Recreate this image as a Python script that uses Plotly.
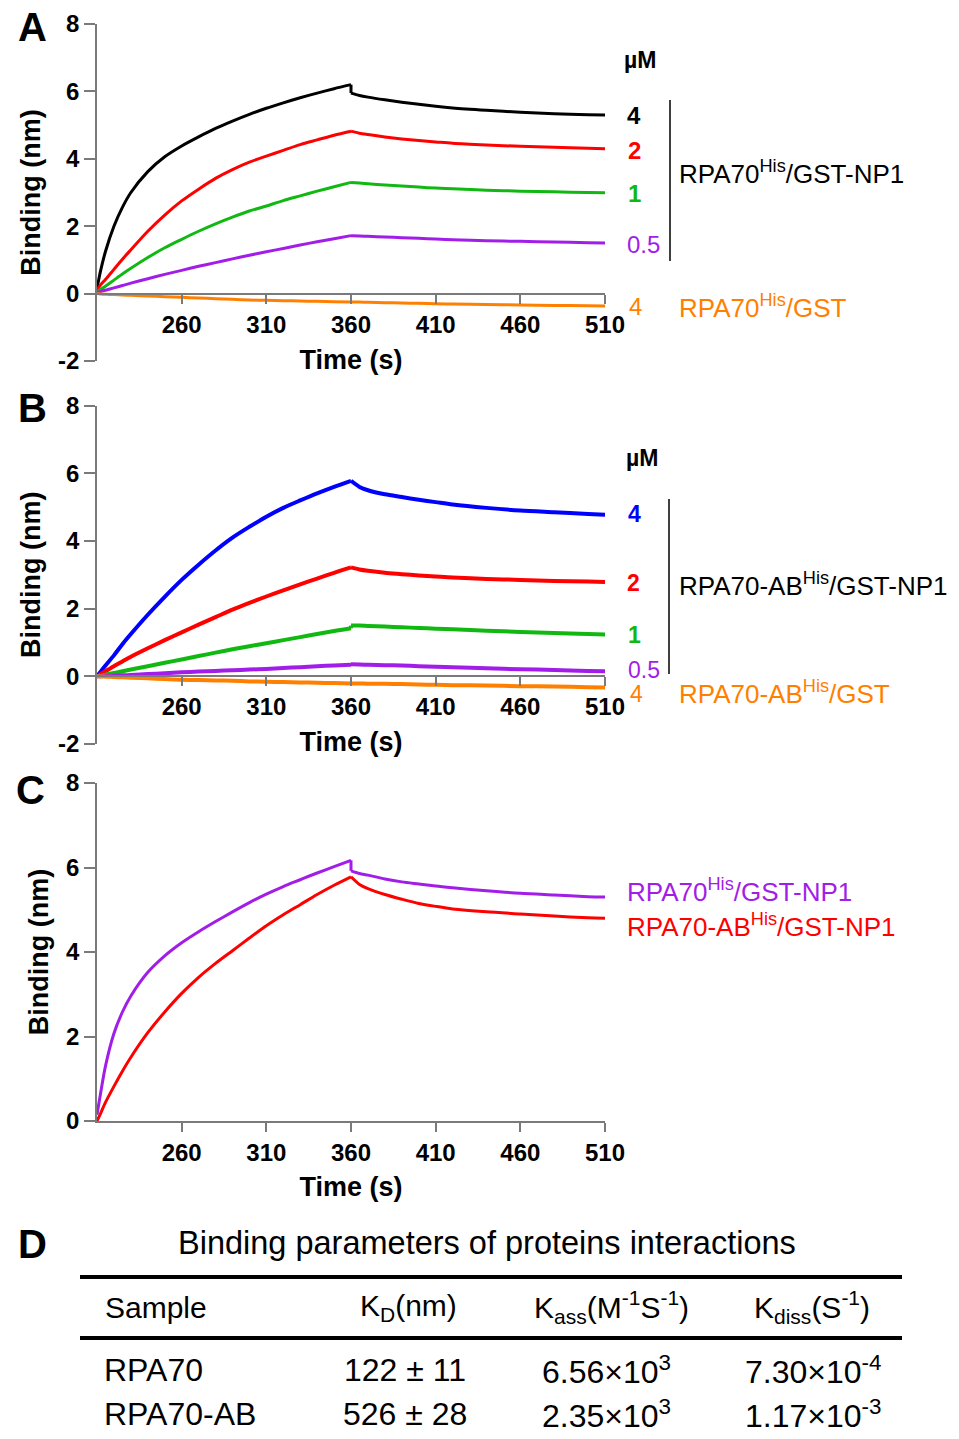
import plotly.graph_objects as go

W, H = 959, 1439
FONT = "Liberation Sans, Arial, Helvetica, sans-serif"

# ---------------- data ----------------
# association phase (s) and dissociation phase (s)
T_ASSOC = [210, 212, 215, 220, 225, 230, 240, 250, 260, 270, 280, 290, 300, 310, 320, 330, 340, 350, 360]
T_DISS = [360, 365, 370, 380, 390, 400, 410, 420, 440, 460, 480, 500, 510]

# Panel A : RPA70His / GST-NP1 (µM) and RPA70His / GST
A_4uM_ASSOC = [0.15, 0.65, 1.25, 2.0, 2.56, 3.0, 3.62, 4.06, 4.38, 4.65, 4.9, 5.12, 5.32, 5.5, 5.66, 5.81, 5.95, 6.08, 6.2]
A_4uM_DISS = [5.95, 5.88, 5.83, 5.75, 5.68, 5.62, 5.56, 5.51, 5.44, 5.38, 5.34, 5.31, 5.3]
A_2uM_ASSOC = [0.1, 0.25, 0.42, 0.72, 1.02, 1.3, 1.85, 2.33, 2.75, 3.1, 3.42, 3.68, 3.9, 4.08, 4.25, 4.42, 4.56, 4.7, 4.82]
A_2uM_DISS = [4.82, 4.76, 4.72, 4.65, 4.59, 4.54, 4.5, 4.46, 4.41, 4.37, 4.34, 4.31, 4.3]
A_1uM_ASSOC = [0.05, 0.12, 0.22, 0.4, 0.58, 0.75, 1.07, 1.36, 1.61, 1.85, 2.07, 2.27, 2.45, 2.6, 2.76, 2.9, 3.04, 3.17, 3.3]
A_1uM_DISS = [3.3, 3.28, 3.26, 3.22, 3.19, 3.16, 3.13, 3.11, 3.07, 3.04, 3.02, 3.0, 2.99]
A_05uM_ASSOC = [0.03, 0.06, 0.1, 0.17, 0.24, 0.31, 0.44, 0.57, 0.69, 0.81, 0.92, 1.03, 1.14, 1.24, 1.34, 1.44, 1.54, 1.63, 1.72]
A_05uM_DISS = [1.72, 1.71, 1.7, 1.68, 1.66, 1.64, 1.62, 1.6, 1.57, 1.55, 1.53, 1.51, 1.5]
A_GST_ASSOC = [0.0, -0.01, -0.02, -0.03, -0.04, -0.05, -0.07, -0.09, -0.11, -0.13, -0.15, -0.17, -0.19, -0.2, -0.21, -0.22, -0.23, -0.24, -0.25]
A_GST_DISS = [-0.25, -0.25, -0.26, -0.27, -0.28, -0.29, -0.3, -0.31, -0.32, -0.34, -0.35, -0.36, -0.37]

# Panel B : RPA70-ABHis / GST-NP1 (µM) and RPA70-ABHis / GST
B_4uM_ASSOC = [0.0, 0.13, 0.32, 0.62, 0.95, 1.25, 1.82, 2.35, 2.85, 3.3, 3.72, 4.1, 4.42, 4.72, 4.98, 5.2, 5.41, 5.6, 5.78]
B_4uM_DISS = [5.78, 5.6, 5.5, 5.38, 5.3, 5.22, 5.15, 5.08, 4.98, 4.9, 4.85, 4.8, 4.78]
B_2uM_ASSOC = [0.0, 0.06, 0.15, 0.3, 0.44, 0.58, 0.83, 1.07, 1.3, 1.53, 1.75, 1.97, 2.17, 2.36, 2.54, 2.72, 2.89, 3.06, 3.22]
B_2uM_DISS = [3.22, 3.16, 3.12, 3.06, 3.02, 2.98, 2.95, 2.92, 2.88, 2.85, 2.82, 2.8, 2.79]
B_1uM_ASSOC = [0.0, 0.02, 0.05, 0.1, 0.15, 0.2, 0.3, 0.4, 0.5, 0.6, 0.7, 0.8, 0.89, 0.98, 1.07, 1.16, 1.25, 1.34, 1.42]
B_1uM_DISS = [1.5, 1.5, 1.49, 1.47, 1.45, 1.43, 1.41, 1.39, 1.35, 1.31, 1.28, 1.25, 1.24]
B_05uM_ASSOC = [0.0, 0.005, 0.01, 0.02, 0.03, 0.04, 0.07, 0.09, 0.12, 0.14, 0.16, 0.18, 0.2, 0.22, 0.25, 0.27, 0.3, 0.32, 0.34]
B_05uM_DISS = [0.36, 0.35, 0.34, 0.33, 0.32, 0.3, 0.28, 0.27, 0.24, 0.21, 0.19, 0.16, 0.15]
B_GST_ASSOC = [0.0, -0.005, -0.01, -0.02, -0.03, -0.04, -0.06, -0.08, -0.1, -0.11, -0.12, -0.13, -0.15, -0.16, -0.17, -0.18, -0.19, -0.2, -0.21]
B_GST_DISS = [-0.21, -0.21, -0.22, -0.22, -0.23, -0.24, -0.25, -0.26, -0.27, -0.29, -0.3, -0.32, -0.33]

# Panel C : comparison at 4 µM
C_RPA70_ASSOC = [0.15, 0.63, 1.3, 2.07, 2.58, 2.96, 3.52, 3.91, 4.22, 4.48, 4.72, 4.95, 5.17, 5.37, 5.55, 5.71, 5.87, 6.02, 6.17]
C_RPA70_DISS = [5.92, 5.86, 5.82, 5.73, 5.66, 5.61, 5.56, 5.52, 5.45, 5.39, 5.35, 5.31, 5.3]
C_RPA70AB_ASSOC = [0.0, 0.17, 0.44, 0.82, 1.18, 1.51, 2.09, 2.58, 3.02, 3.4, 3.73, 4.03, 4.33, 4.62, 4.88, 5.12, 5.36, 5.58, 5.78]
C_RPA70AB_DISS = [5.78, 5.6, 5.5, 5.36, 5.25, 5.15, 5.08, 5.02, 4.95, 4.9, 4.85, 4.81, 4.8]

X_TICKS = [260, 310, 360, 410, 460, 510]
Y_TICKS_AB = [-2, 0, 2, 4, 6, 8]
Y_TICK_TEXT_AB = ["-2", "0", "2", "4", "6", "8"]
Y_TICKS_C = [0, 2, 4, 6, 8]
Y_TICK_TEXT_C = ["0", "2", "4", "6", "8"]

CONC_LABELS = ["4", "2", "1", "0.5", "4"]

# Panel D table
TABLE_TITLE = "Binding parameters of proteins interactions"
TABLE_HEADER = ["Sample", "K<sub>D</sub>(nm)", "K<sub>ass</sub>(M<sup>-1</sup>S<sup>-1</sup>)", "K<sub>diss</sub>(S<sup>-1</sup>)"]
TABLE_SAMPLES = ["RPA70", "RPA70-AB"]
TABLE_KD = ["122 ± 11", "526 ± 28"]
TABLE_KASS = ["6.56×10<sup>3</sup>", "2.35×10<sup>3</sup>"]
TABLE_KDISS = ["7.30×10<sup>-4</sup>", "1.17×10<sup>-3</sup>"]

# ---------------- colours ----------------
BLACK = "#000000"
RED = "#ff0000"
GREEN = "#12b812"
PURPLE = "#a21ee8"
ORANGE = "#ff8000"
BLUE = "#0000ff"
AXIS_GREY = "#7a7a7a"


def px(x):
    return x / W


def py(y):
    return 1 - y / H


fig = go.Figure()

panels = [
    ("x", "y", [(A_4uM_ASSOC, A_4uM_DISS, BLACK), (A_2uM_ASSOC, A_2uM_DISS, RED),
                (A_1uM_ASSOC, A_1uM_DISS, GREEN), (A_05uM_ASSOC, A_05uM_DISS, PURPLE),
                (A_GST_ASSOC, A_GST_DISS, ORANGE)], 3),
    ("x2", "y2", [(B_4uM_ASSOC, B_4uM_DISS, BLUE), (B_2uM_ASSOC, B_2uM_DISS, RED),
                  (B_1uM_ASSOC, B_1uM_DISS, GREEN), (B_05uM_ASSOC, B_05uM_DISS, PURPLE),
                  (B_GST_ASSOC, B_GST_DISS, ORANGE)], 4),
    ("x3", "y3", [(C_RPA70_ASSOC, C_RPA70_DISS, PURPLE), (C_RPA70AB_ASSOC, C_RPA70AB_DISS, RED)], 3),
]
for xa, ya, series, lw in panels:
    for assoc, diss, col in series:
        line = dict(color=col, width=lw, shape="spline", smoothing=0.8)
        fig.add_trace(go.Scatter(x=T_ASSOC, y=assoc, mode="lines", xaxis=xa, yaxis=ya,
                                 line=line, showlegend=False, hoverinfo="skip"))
        fig.add_trace(go.Scatter(x=T_DISS, y=diss, mode="lines", xaxis=xa, yaxis=ya,
                                 line=line, showlegend=False, hoverinfo="skip"))
        # instantaneous switch between the two phases at 360 s
        fig.add_trace(go.Scatter(x=[T_ASSOC[-1], T_DISS[0]], y=[assoc[-1], diss[0]], mode="lines",
                                 xaxis=xa, yaxis=ya, line=dict(color=col, width=lw),
                                 showlegend=False, hoverinfo="skip"))

tickfont = dict(family=FONT, size=24, color="black", weight="bold")
titlefont = dict(family=FONT, size=27, color="black", weight="bold")


def xaxis(anchor, position=None):
    d = dict(domain=[px(97), px(605)], range=[210, 510], tickvals=X_TICKS,
             ticktext=[str(v) for v in X_TICKS], automargin=False,
             showline=True, linecolor=AXIS_GREY, linewidth=1.5, ticks="outside",
             tickcolor=AXIS_GREY, tickwidth=1.5, ticklen=9, showgrid=False, zeroline=False,
             tickfont=tickfont, title=dict(text="Time (s)", font=titlefont, standoff=13),
             fixedrange=True)
    if position is not None:
        d["anchor"] = "free"
        d["position"] = position
    else:
        d["anchor"] = anchor
    return d


def yaxis(top, bottom, rng, tv, tt, anchor):
    return dict(domain=[py(bottom), py(top)], range=rng, tickvals=tv, ticktext=tt,
                anchor=anchor, automargin=False, showline=True, linecolor=AXIS_GREY, linewidth=1.5,
                ticks="outside", tickcolor=AXIS_GREY, tickwidth=1.5, ticklen=11,
                showgrid=False, zeroline=False, tickfont=tickfont,
                title=dict(text="Binding (nm)", font=titlefont, standoff=10), fixedrange=True)


fig.update_layout(
    width=W, height=H, autosize=False,
    margin=dict(l=0, r=0, t=0, b=0, pad=0),
    paper_bgcolor="white", plot_bgcolor="white",
    xaxis=xaxis(None, position=py(294)),
    yaxis=yaxis(24, 361, [-2, 8], Y_TICKS_AB, Y_TICK_TEXT_AB, "x"),
    xaxis2=xaxis(None, position=py(676)),
    yaxis2=yaxis(405.7, 744, [-2, 8], Y_TICKS_AB, Y_TICK_TEXT_AB, "x2"),
    xaxis3=xaxis("y3"),
    yaxis3=yaxis(783, 1121, [0, 8], Y_TICKS_C, Y_TICK_TEXT_C, "x3"),
)

ann = []


def add_text(text, x, y, size, color="black", bold=False, xanchor="center"):
    ann.append(dict(text=text, x=px(x), y=py(y), xref="paper", yref="paper",
                    xanchor=xanchor, yanchor="middle", showarrow=False,
                    font=dict(family=FONT, size=size, color=color,
                              weight="bold" if bold else "normal")))


# panel letters
add_text("A", 32, 27, 40, bold=True)
add_text("B", 32, 408, 40, bold=True)
add_text("C", 30, 790, 40, bold=True)
add_text("D", 32, 1244, 40, bold=True)

# Panel A labels
add_text("µM", 640, 60, 23, bold=True)
a_cols = [BLACK, RED, GREEN, PURPLE, ORANGE]
a_pos = [(634, 115), (634, 150), (634, 193), (643, 244), (635, 306)]
for lab, col, (x, y) in zip(CONC_LABELS, a_cols, a_pos):
    add_text(lab, x, y, 24, color=col, bold=(lab != "0.5" and col != ORANGE))
add_text("RPA70<sup>His</sup>/GST-NP1", 677, 173, 26, xanchor="left")
add_text("RPA70<sup>His</sup>/GST", 677, 306, 26, color=ORANGE, xanchor="left")

# Panel B labels
add_text("µM", 642, 458, 23, bold=True)
b_cols = [BLUE, RED, GREEN, PURPLE, ORANGE]
b_pos = [(634, 514), (633, 583), (634, 635), (644, 670), (636, 694)]
for lab, col, (x, y) in zip(CONC_LABELS, b_cols, b_pos):
    add_text(lab, x, y, 23, color=col, bold=(lab != "0.5" and col != ORANGE))
add_text("RPA70-AB<sup>His</sup>/GST-NP1", 677, 584, 26, xanchor="left")
add_text("RPA70-AB<sup>His</sup>/GST", 677, 692, 26, color=ORANGE, xanchor="left")

# Panel C labels
add_text("RPA70<sup>His</sup>/GST-NP1", 625, 891, 26, color=PURPLE, xanchor="left")
add_text("RPA70-AB<sup>His</sup>/GST-NP1", 625, 925, 26, color=RED, xanchor="left")

# Panel D table
add_text(TABLE_TITLE, 487, 1243, 32.5)
col_x = [103, 408, 611, 812]
for i, h in enumerate(TABLE_HEADER):
    add_text(h, col_x[i], 1307, 30, xanchor="left" if i == 0 else "center")
row_y = [1370, 1414]
for r in range(2):
    add_text(TABLE_SAMPLES[r], 102, row_y[r], 32, xanchor="left")
    add_text(TABLE_KD[r], 405, row_y[r], 32)
    add_text(TABLE_KASS[r], 606, row_y[r], 32)
    add_text(TABLE_KDISS[r], 813, row_y[r], 32)

shapes = [
    # brackets
    dict(type="line", xref="paper", yref="paper", x0=px(670), x1=px(670), y0=py(100), y1=py(261),
         line=dict(color="black", width=1.5)),
    dict(type="line", xref="paper", yref="paper", x0=px(669), x1=px(669), y0=py(499), y1=py(674),
         line=dict(color="black", width=1.5)),
    # table rules
    dict(type="line", xref="paper", yref="paper", x0=px(80), x1=px(902), y0=py(1277), y1=py(1277),
         line=dict(color="black", width=4)),
    dict(type="line", xref="paper", yref="paper", x0=px(80), x1=px(902), y0=py(1338), y1=py(1338),
         line=dict(color="black", width=4)),
]

fig.update_layout(annotations=ann, shapes=shapes)

fig.write_html("out.html", config={"displayModeBar": False},
               post_script="document.body.style.margin='0';")
